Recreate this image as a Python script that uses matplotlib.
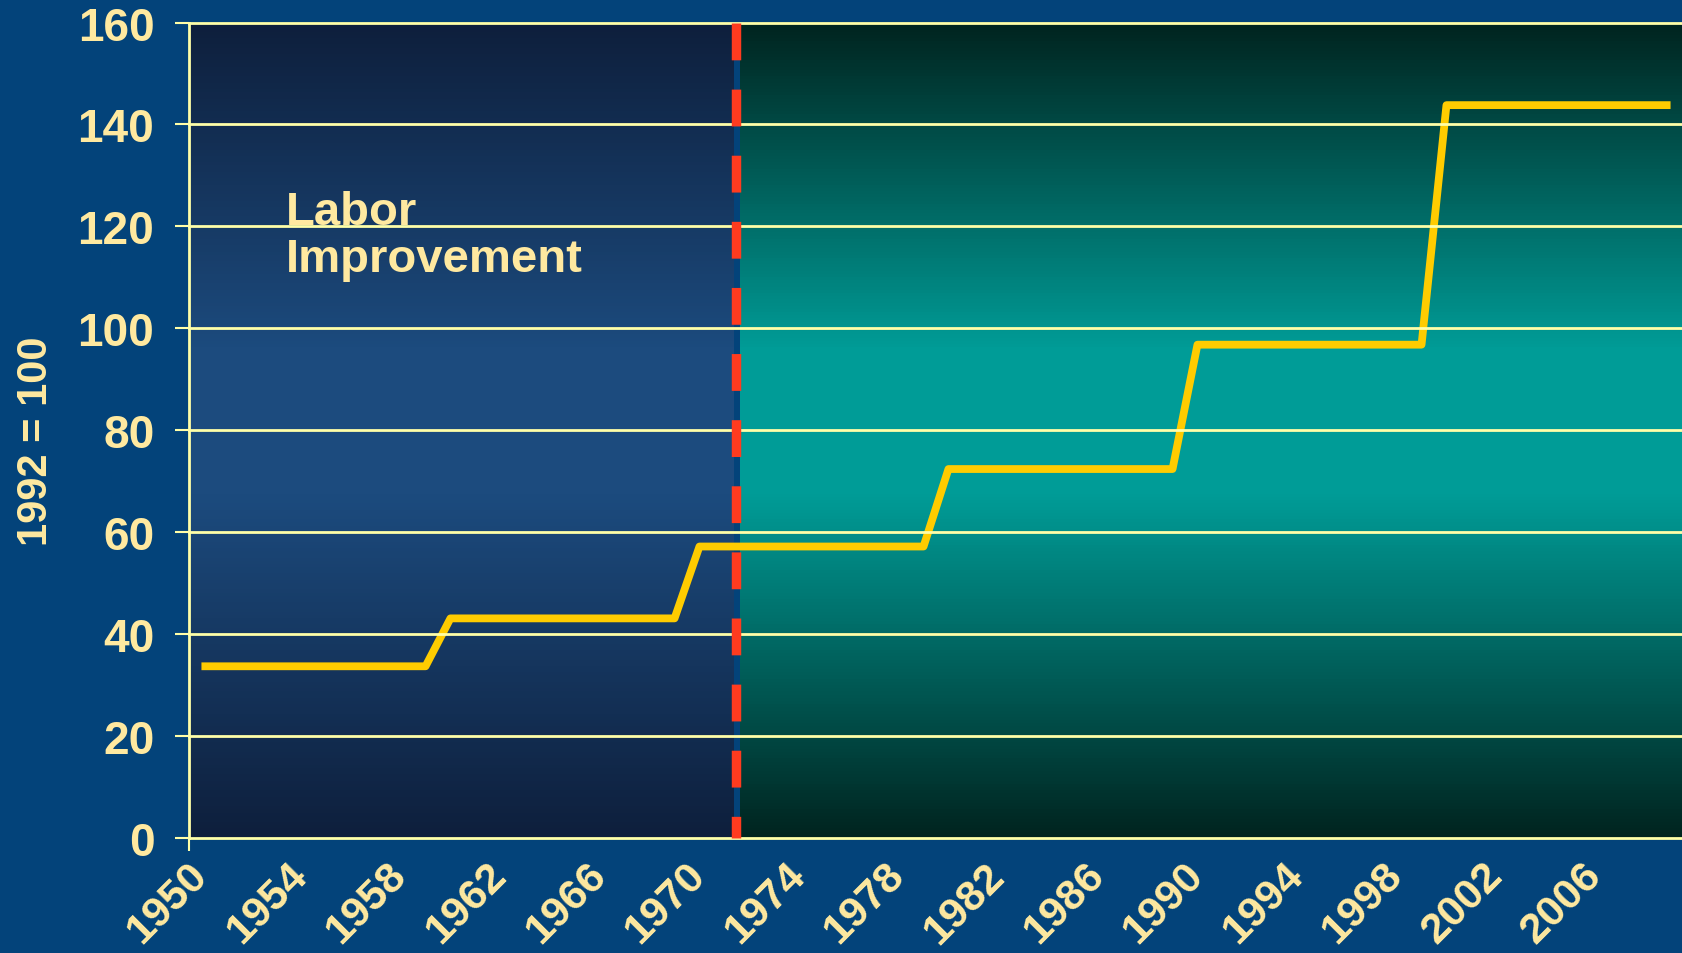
import matplotlib
matplotlib.use("Agg")
import matplotlib.pyplot as plt
import numpy as np
from matplotlib.colors import LinearSegmentedColormap
from matplotlib.transforms import ScaledTranslation

# yearly index values (1992 = 100)
years = list(range(1950, 2010))
index_values = [
    33.7, 33.7, 33.7, 33.7, 33.7, 33.7, 33.7, 33.7, 33.7, 33.7,
    43.1, 43.1, 43.1, 43.1, 43.1, 43.1, 43.1, 43.1, 43.1, 43.1,
    57.2, 57.2, 57.2, 57.2, 57.2, 57.2, 57.2, 57.2, 57.2, 57.2,
    72.4, 72.4, 72.4, 72.4, 72.4, 72.4, 72.4, 72.4, 72.4, 72.4,
    96.8, 96.8, 96.8, 96.8, 96.8, 96.8, 96.8, 96.8, 96.8, 96.8,
    143.8, 143.8, 143.8, 143.8, 143.8, 143.8, 143.8, 143.8, 143.8, 143.8,
]
tick_years = list(range(1950, 2007, 4))
y_ticks = [0, 20, 40, 60, 80, 100, 120, 140, 160]
split_year = 1972
annotation_lines = ["Labor", "Improvement"]
y_title = "1992 = 100"

BG = "#03437A"
TXT = "#FFE9A0"
GRID = "#FFFFA8"
LINE = "#FFCC00"
RED = "#FF3B1F"

plt.rcParams['font.family'] = ['Liberation Sans', 'DejaVu Sans']
plt.rcParams['font.weight'] = 'bold'

fig = plt.figure(figsize=(16.83, 9.54), dpi=100, facecolor=BG)
ax = fig.add_axes([0.1123, 0.1205, 0.8877, 0.8548])
ax.set_facecolor(BG)

x0, x1 = years[0], years[-1] + 1
ax.set_xlim(x0, x1)
ax.set_ylim(0, 160)

# background panels (vertical gradients)
def panel(c_dark, c_light, left, right):
    cmap = LinearSegmentedColormap.from_list(
        "p", [(0, c_dark), (0.42, c_light), (0.6, c_light), (1, c_dark)])
    grad = np.linspace(0, 1, 256).reshape(-1, 1)
    ax.imshow(grad, cmap=cmap, origin="lower", aspect="auto",
              extent=[left, right, 0, 160], zorder=0)

panel("#0E1F3C", "#1C4B7E", x0, split_year - 0.12)
panel("#00241F", "#009C97", split_year + 0.12, x1)

# data line (category centres)
xs = [y + 0.5 for y in years]
ax.plot(xs, index_values, color=LINE, lw=5.6, solid_joinstyle="round",
        solid_capstyle="butt", zorder=2)

# horizontal grid on top of the data line
for t in y_ticks:
    ax.axhline(t, color=GRID, lw=2.0, zorder=3, clip_on=False)

# red dashed separator
ax.plot([split_year - 0.05, split_year - 0.05], [160, 0], color=RED, lw=6.8,
        ls=(0, (3.9, 3.1)), zorder=4, clip_on=False)

for s in ["top", "right", "bottom"]:
    ax.spines[s].set_visible(False)
ax.spines["left"].set_color(GRID)
ax.spines["left"].set_linewidth(2.0)
ax.spines["left"].set_zorder(5)

ax.set_yticks(y_ticks)
ax.set_yticklabels([str(t) for t in y_ticks])
ax.tick_params(axis="y", length=10, width=1.5, color=GRID, pad=15,
               labelsize=33, labelcolor=TXT)

ax.set_xticks([y + 0.5 for y in tick_years])
ax.set_xticklabels([str(y) for y in tick_years], rotation=45, ha="right")
ax.tick_params(axis="x", length=0, pad=20, labelsize=31, labelcolor=TXT)
shift = ScaledTranslation(0.14, 0.11, fig.dpi_scale_trans)
for lab in ax.get_xticklabels():
    lab.set_transform(lab.get_transform() + shift)
ax.set_xticks([x0], minor=True)
ax.tick_params(axis="x", which="minor", length=9, width=1.5, color=GRID)

ax.set_ylabel(y_title, fontsize=30, color=TXT, fontweight="bold")
ax.yaxis.set_label_coords(-0.089, 0.488)

ax.text(1953.9, 120.5, annotation_lines[0], fontsize=34, color=TXT,
        ha="left", va="baseline", zorder=6)
ax.text(1953.9, 111.3, annotation_lines[1], fontsize=34, color=TXT,
        ha="left", va="baseline", zorder=6)

fig.savefig("out.png", dpi=100, facecolor=BG)
